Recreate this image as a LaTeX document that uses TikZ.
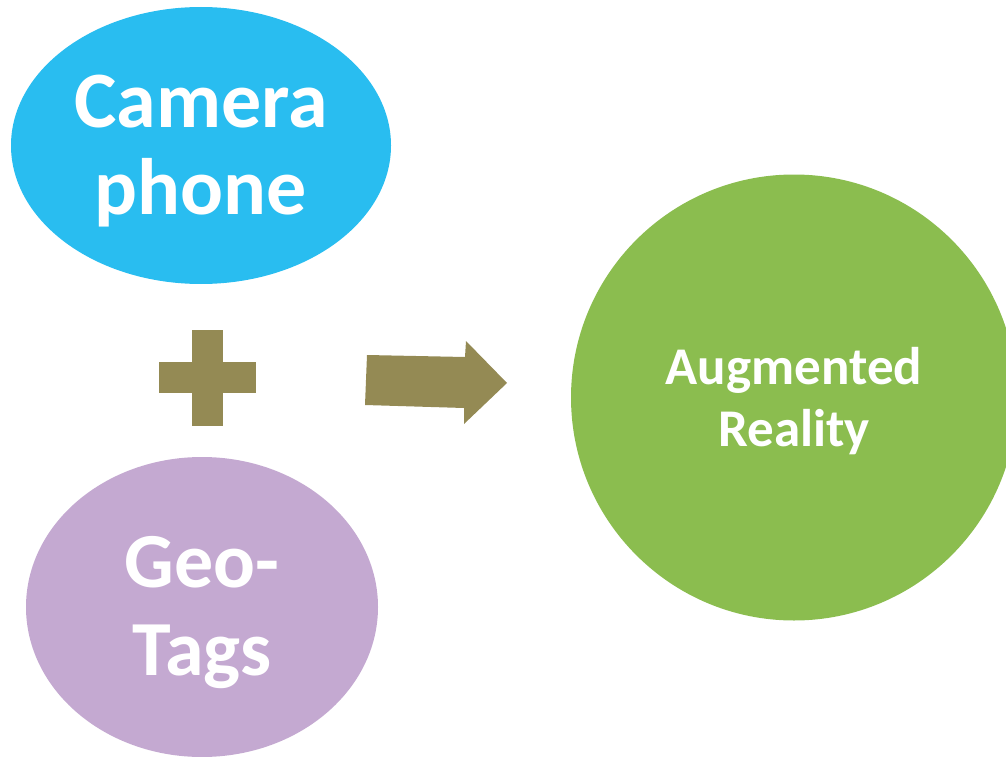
\documentclass[tikz,border=0pt]{standalone}
\usepackage{fontspec}
\setmainfont{Carlito}
\usetikzlibrary{shapes.geometric}
\definecolor{camblue}{RGB}{41,189,240}
\definecolor{geopurple}{RGB}{196,169,209}
\definecolor{argreen}{RGB}{139,189,79}
\definecolor{olivesym}{RGB}{148,138,84}
\begin{document}
\begin{tikzpicture}[x=1pt,y=-1pt,
  blob/.style={ellipse, inner sep=0pt, outer sep=0pt, draw=none},
  txt/.style={text=white, align=center, inner sep=0pt},
  symbol/.style={fill=olivesym, draw=none}]
\useasboundingbox (0,0) rectangle (1006,757);
\clip (0,0) rectangle (1006,757);
\node[blob, fill=camblue, minimum width=380pt, minimum height=277pt,
      label={[txt, yshift=-6pt, font=\fontsize{80}{87}\selectfont\bfseries]center:{Camera\\phone}}]
      (cam) at (201,145.5) {};
\node[blob, fill=geopurple, minimum width=352pt, minimum height=300pt,
      label={[txt, yshift=-6pt, font=\fontsize{78}{88}\selectfont\bfseries]center:{Geo-\\Tags}}]
      (geo) at (202,607) {};
\node[blob, fill=argreen, minimum width=446pt, minimum height=446pt,
      label={[txt, yshift=-4pt, font=\fontsize{53}{62}\selectfont\bfseries]center:{Augmented\\Reality}}]
      (ar) at (794,397.5) {};
% plus sign
\fill[symbol] (159,362) rectangle (256,393);
\fill[symbol] (192,330) rectangle (223,426);
% block arrow
\fill[symbol] (367,355) -- (465,357) -- (466,341) -- (507,383) -- (464,424)
  -- (464,408) -- (365,405) -- cycle;
\end{tikzpicture}
\end{document}
